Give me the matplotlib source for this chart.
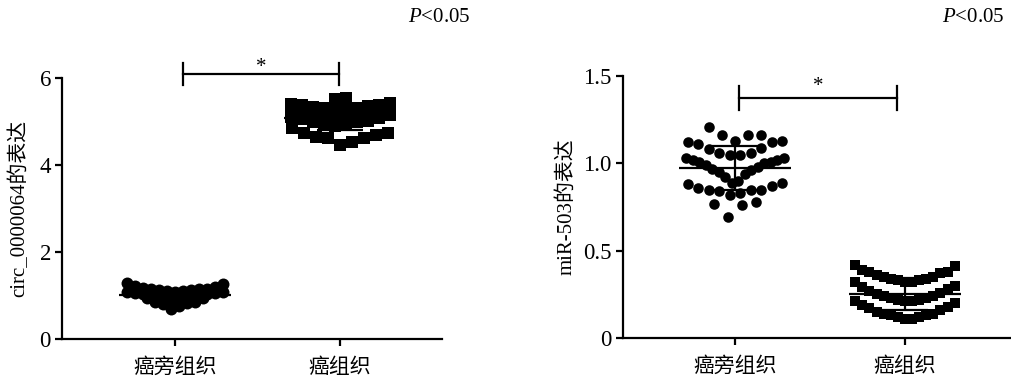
import numpy as np
import matplotlib
matplotlib.use('Agg')
import matplotlib.pyplot as plt

plt.rcParams['font.family'] = ['Liberation Serif', 'Noto Sans CJK SC']
plt.rcParams['mathtext.fontset'] = 'custom'
plt.rcParams['mathtext.it'] = 'Liberation Serif:italic'
plt.rcParams['mathtext.rm'] = 'Liberation Serif'

# ---------------- data ----------------
categories = ['癌旁组织', '癌组织']

circ_adjacent = [0.70, 0.76, 0.80, 0.82, 0.84, 0.86,
                 0.88, 0.89, 0.90, 0.91, 0.92, 0.93, 0.94, 0.95,
                 0.96, 0.97, 0.98, 0.99, 1.00, 1.01, 1.02, 1.03, 1.04, 1.05, 1.06, 1.07, 1.08,
                 1.09, 1.10, 1.11, 1.12, 1.13, 1.14, 1.15, 1.16, 1.18, 1.20, 1.22, 1.26, 1.29]
circ_tumor = [4.46, 4.53, 4.62, 4.62, 4.64, 4.69, 4.74, 4.74, 4.85,
              4.90, 4.93, 4.96, 4.98, 5.00, 5.02, 5.05, 5.08, 5.11, 5.14,
              5.15, 5.16, 5.17, 5.18, 5.19, 5.20, 5.21, 5.22, 5.24, 5.26,
              5.28, 5.29, 5.30, 5.31, 5.33, 5.35, 5.37, 5.39, 5.41, 5.43,
              5.52, 5.55]
mir_adjacent = [0.69, 0.76, 0.77, 0.78,
                0.82, 0.83, 0.84, 0.85, 0.85, 0.85, 0.86, 0.87, 0.88, 0.89,
                0.89, 0.90, 0.92, 0.94, 0.95, 0.96, 0.97, 0.98, 0.99, 1.00,
                1.01, 1.01, 1.02, 1.02, 1.03, 1.03,
                1.05, 1.05, 1.06, 1.06, 1.08, 1.09, 1.11, 1.12, 1.12, 1.13,
                1.13, 1.16, 1.16, 1.16, 1.21]
mir_tumor = [0.11, 0.11, 0.12, 0.12, 0.13, 0.13, 0.14, 0.14, 0.15, 0.16, 0.17, 0.18, 0.19, 0.20, 0.21,
             0.21, 0.21, 0.22, 0.22, 0.23, 0.23, 0.24, 0.24, 0.25, 0.26, 0.27, 0.28, 0.29, 0.30, 0.32,
             0.32, 0.32, 0.33, 0.33, 0.34, 0.34, 0.35, 0.35, 0.36, 0.37, 0.38, 0.38, 0.39, 0.41, 0.42]

circ_yticks = [0, 2, 4, 6]
circ_yticklabels = ['0', '2', '4', '6']
mir_yticks = [0, 0.5, 1.0, 1.5]
mir_yticklabels = ['0', '0.5', '1.0', '1.5']
ylabels = ['circ_0000064的表达', 'miR-503的表达']
p_text = '$P$<0.05'
sig_mark = '*'

# ---------------- layout ----------------
W, H, DPI = 1011, 378, 100
fig = plt.figure(figsize=(W / DPI, H / DPI), dpi=DPI)
FS = 15
TFS = 16.5
LW = 1.6


def swarm(values, rows):
    """rows: list of (count, step_px); returns offsets in px and y values."""
    vals = np.sort(np.asarray(values, dtype=float))
    xs, ys = [], []
    i = 0
    for n, step in rows:
        row = vals[i:i + n]
        n = len(row)
        i += n
        if n == 0:
            continue
        if n % 2:
            order = [0] + [s * k for k in range(1, n) for s in (1, -1)]
        else:
            order = [s * (k - 0.5) for k in range(1, n + 1) for s in (-1, 1)]
        xs.extend(np.array(order[:n]) * step)
        ys.extend(row)
    return np.array(xs), np.array(ys)


def panel(rect, xlim, ylim, groups, markers, msizes, rows,
          yticks, yticklabels, ylabel, ylabel_x, bracket, star):
    ax = fig.add_axes(rect)
    ax.set_xlim(*xlim)
    ax.set_ylim(*ylim)
    unit = rect[2] * W / (xlim[1] - xlim[0])
    for i, (vals, m, ms, r) in enumerate(zip(groups, markers, msizes, rows)):
        dx, yv = swarm(vals, r)
        ax.plot(i + dx / unit, yv, linestyle='none', marker=m, ms=ms, mfc='black',
                mec='black', mew=0, clip_on=False, zorder=3)
        mean = np.mean(vals)
        sd = np.std(vals, ddof=1)
        ax.hlines(mean, i - 56 / unit, i + 56 / unit, color='black', lw=LW, zorder=4)
        ax.vlines(i, mean - sd, mean + sd, color='black', lw=LW, zorder=4)
        ax.hlines([mean - sd, mean + sd], i - 23 / unit, i + 23 / unit,
                  color='black', lw=LW, zorder=4)
    ax.set_xticks(range(len(categories)))
    ax.set_xticklabels(categories, fontsize=FS)
    ax.set_yticks(yticks)
    ax.set_yticklabels(yticklabels, fontsize=TFS)
    for s in ('top', 'right'):
        ax.spines[s].set_visible(False)
    for s in ('left', 'bottom'):
        ax.spines[s].set_linewidth(LW)
    ax.tick_params(axis='both', direction='out', length=5, width=LW, color='black')
    ax.tick_params(axis='x', pad=9)
    ax.tick_params(axis='y', pad=3)
    ax.set_ylabel(ylabel, fontsize=FS)
    ax.yaxis.set_label_coords(ylabel_x, 0.5)
    x0, x1, yb, d = bracket
    ax.plot([x0, x1], [yb, yb], color='black', lw=LW, clip_on=False)
    ax.plot([x0, x0], [yb - d, yb + d], color='black', lw=LW, clip_on=False)
    ax.plot([x1, x1], [yb - d, yb + d], color='black', lw=LW, clip_on=False)
    ax.text(star[0], star[1], sig_mark, fontsize=FS, ha='center', va='center')
    return ax


# left panel
lx0, lx1 = 62, 442
ly0, ly1 = 339, 78
panel([lx0 / W, (H - ly0) / H, (lx1 - lx0) / W, (ly0 - ly1) / H],
      (-0.681, 1.615), (0, 6),
      [circ_adjacent, circ_tumor], ['o', 's'], [8.6, 8.6],
      [[(6, 8), (8, 8), (13, 8), (13, 8)],
       [(9, 12), (10, 11), (10, 11), (10, 11), (2, 11)]],
      circ_yticks, circ_yticklabels, ylabels[0], -0.087,
      (0.05, 0.99, 6.09, 0.25), (0.52, 6.24))

# right panel
rx0, rx1 = 623, 1011
ry0, ry1 = 338, 76
panel([rx0 / W, (H - ry0) / H, (rx1 - rx0) / W, (ry0 - ry1) / H],
      (-0.659, 1.624), (0, 1.5),
      [mir_adjacent, mir_tumor], ['o', 's'], [7.6, 7.6],
      [[(4, 14), (10, 10.5), (16, 6.5), (10, 10.5), (5, 13)],
       [(15, 7.1), (15, 7.1), (15, 7.1)]],
      mir_yticks, mir_yticklabels, ylabels[1], -0.121,
      (0.024, 0.953, 1.374, 0.067), (0.49, 1.44))

fig.text(408 / W, 1 - 17 / H, p_text, fontsize=FS, ha='left', va='center')
fig.text(942 / W, 1 - 18 / H, p_text, fontsize=FS, ha='left', va='center')

fig.savefig('out.png', dpi=DPI)
